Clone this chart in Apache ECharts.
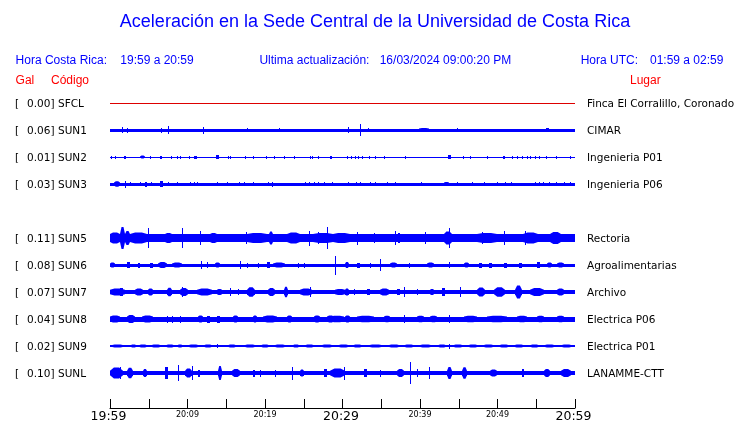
<!DOCTYPE html>
<html><head><meta charset="utf-8">
<script src="https://cdn.jsdelivr.net/npm/echarts@6/dist/echarts.min.js"></script>
<style>html,body{margin:0;padding:0;background:#fff}#c{width:740px;height:423px}</style>
</head><body><div id="c"></div>
<script>
// ---------- data ----------
const titleText = 'Aceleración en la Sede Central de la Universidad de Costa Rica';
const headerLabels = ['Hora Costa Rica:', '19:59 a 20:59', 'Ultima actualización:', '16/03/2024 09:00:20 PM', 'Hora UTC:', '01:59 a 02:59'];
const columnLabels = ['Gal', 'Código', 'Lugar'];
const codes  = ['SFCL', 'SUN1', 'SUN2', 'SUN3', 'SUN5', 'SUN6', 'SUN7', 'SUN8', 'SUN9', 'SUNL'];
const gals   = ['0.00', '0.06', '0.01', '0.03', '0.11', '0.08', '0.07', '0.04', '0.02', '0.10'];
const places = ['Finca El Corralillo, Coronado', 'CIMAR', 'Ingenieria P01', 'Ingenieria P06', 'Rectoria',
                'Agroalimentarias', 'Archivo', 'Electrica P06', 'Electrica P01', 'LANAMME-CTT'];
const tickMinutes = [0, 10, 20, 30, 40, 50, 60];
const tickLabels  = ['19:59', '20:09', '20:19', '20:29', '20:39', '20:49', '20:59'];
const bigTickMinutes = [0, 30, 60];

// envelopes: [start minute, end minute, half amplitude]; first entry = background level of the trace
const sfcl = [[0,60,0]];
const sun1 = [[0,60,1.5],[1.5,1.5,3.3],[2.2,2.2,2.5],[6.6,6.6,2.5],[7.5,7.5,4.3],[12.0,12.0,3.5],[17.7,17.7,2],[21.8,21.8,2],
  [30.7,30.7,3],[32.2,32.2,6],[33.3,33.3,2],[39.9,41.2,1.9],[44.8,44.8,2],[56.2,56.6,2]];
const sun2 = [[0,60,0.5],[0.1,0.2,1.5],[0.6,0.7,1.5],[1.8,2.1,1.5],[3.9,4.5,1.5],[5.2,5.3,1.5],[6.5,6.7,1.5],[7.9,8.0,1.5],
  [8.7,8.8,1.5],[9.0,9.1,1.5],[10.2,10.3,1.5],[10.9,11.2,1.5],[13.7,14.1,1.6],[15.2,15.2,1.5],[15.5,15.5,1.5],[17.4,17.6,1.5],
  [18.5,18.5,1.5],[20.1,20.1,1.5],[21.1,21.1,1.5],[22.4,22.4,1.5],[23.7,23.7,1.5],[25.8,25.8,1.5],[26.1,26.1,1.5],[26.8,27.0,1.5],
  [28.4,28.6,1.5],[30.6,30.6,1.5],[31.1,31.1,1.5],[31.6,31.6,1.5],[32.0,32.0,1.5],[32.5,32.5,1.5],[33.4,33.4,1.5],[34.2,34.2,1.5],
  [35.3,35.3,1.5],[38.0,38.1,1.5],[43.6,44.0,1.8],[45.6,45.6,1.5],[46.5,46.5,1.5],[48.7,48.7,1.5],[50.7,51.0,1.5],[51.9,52.0,1.5],
  [52.5,52.5,1.5],[53.2,53.2,1.5],[53.8,53.8,1.5],[54.25,54.25,1.5],[54.8,54.8,1.5],[55.3,55.3,1.5],[56.2,56.2,1.5],[57.5,57.5,1.5],[59.3,59.3,1.5]];
const sun3 = [[0,60,1.5],[0.5,1.3,2.7],[1.9,2.0,3.5],[2.6,2.6,2],[3.9,3.9,2],[4.5,4.75,2.5],[5.3,5.3,2],[6.45,6.8,2.7],[7.5,7.5,1.8],
  [8.7,8.8,2],[10.3,10.3,1.8],[10.8,10.8,1.8],[11.2,11.2,2],[13.8,13.8,2],[15.15,15.15,1.8],[16.6,16.6,2],[17.35,17.35,1.8],
  [18.5,18.5,1.8],[20.45,20.45,1.8],[20.9,21.05,2.5],[25.2,25.2,2],[25.7,25.7,1.8],[26.3,26.3,1.8],[26.9,26.9,2],[27.55,27.55,1.8],
  [28.7,28.7,1.8],[30.65,30.65,2],[31.7,31.85,2.3],[32.3,32.3,1.8],[33.5,33.5,1.8],[34.2,34.2,1.8],[35.8,35.8,1.8],[36.8,36.8,1.8],
  [40.1,40.1,1.8],[43.05,43.7,2],[44.8,44.8,1.8],[46.7,46.7,1.8],[48.3,48.3,1.8],[49.95,50.1,2.3],[51.0,51.0,1.8],[51.7,51.7,1.8],
  [54.8,54.8,1.8],[55.3,55.3,1.8],[55.9,55.9,1.8],[56.6,56.6,2],[57.5,57.5,2],[58.55,58.55,1.8],[59.3,59.3,1.8]];
const sun5 = [[0,60,4],[0,1.3,5.5],[1.3,1.95,11],[1.95,2.6,7],[2.6,4.75,5.5],[4.95,4.95,9.7],[7.1,7.97,5],[9.34,9.34,10],
  [11.63,11.63,7],[12.9,13.8,5],[17.53,17.53,6],[17.66,20.24,5],[20.54,21.09,6.5],[22.8,24.5,5.5],[25.74,25.74,7.5],
  [26.2,28.8,5],[26.9,26.9,6],[27.99,27.99,11],[28.8,31,5],[31.87,31.87,6.5],[34.01,34.01,5],[36.81,36.81,7],[37.2,37.4,5],
  [40.69,40.69,6],[43.05,44.14,6.5],[43.7,43.7,10],[47.4,49.95,5],[48.01,48.01,6],[50.8,50.8,7],[53.3,55.2,5.5],
  [53.61,53.61,7],[56.83,58.13,6]];
const sun6 = [[0,60,1.5],[0,0.65,2.5],[2.16,2.58,3],[3.66,3.88,2.5],[5.17,5.59,2.5],[6.24,7.32,3],[7.97,9.26,2.5],[11.75,11.75,4],
  [12.49,12.49,3],[13.56,14.21,2.5],[16.79,16.79,4],[17.66,17.86,2.5],[19.16,19.16,2.5],[20.24,20.67,3],[21.09,22.6,2.5],
  [24.32,24.32,2.5],[24.97,24.97,2.5],[29.06,29.06,9.5],[30.35,30.78,3],[31.87,32.29,2.5],[33.58,33.58,2.5],[34.88,34.88,5.8],
  [36.17,37.03,2.5],[38.53,38.75,2.5],[40.91,41.76,2.5],[43.7,43.92,3.3],[45.64,46.28,2.5],[47.57,48.01,2.5],[48.87,49.3,2.5],
  [50.8,51.24,2.5],[52.74,53.18,2.5],[55.12,55.54,3.3],[56.41,57.05,2.5],[57.7,58.55,2.5]];
const sun7 = [[0,60,2.2],[0,1.94,3.5],[1.29,1.68,4],[3.23,4.3,3.5],[4.95,5.59,3.5],[7.32,7.97,4.3],[9.04,10.11,4],[9.26,9.26,5.3],
  [11.2,13.14,3.5],[13.78,14.43,3],[15.5,15.5,4],[16.57,16.57,3],[17.66,18.73,4.7],[20.45,21.31,4],[22.39,23.03,5.3],
  [24.54,26.05,3.5],[25.83,25.83,5],[29.06,30.35,3],[30.35,30.78,3.5],[31.43,31.43,3],[33.16,33.58,3],[34.88,35.95,3.5],
  [37.03,37.46,3],[37.89,37.89,5],[39.62,39.62,3],[41.33,41.76,3],[42.85,43.27,4],[45.21,45.21,5],[47.37,48.44,4.5],
  [49.51,51.02,4.7],[52.31,53.18,6.5],[54.25,55.97,4],[57.7,58.55,3.5]];
const sun8 = [[0,60,2.5],[0,1.29,3.5],[2.16,3.23,4],[4.09,5.59,3.5],[7.32,7.32,3.5],[7.97,7.97,3.5],[9.04,9.04,3.5],[11.41,12.05,3.5],
  [12.49,12.92,3.5],[13.78,14.21,3.5],[15.93,16.57,3.5],[18.51,18.95,3.5],[19.8,21.53,3.5],[22.82,23.47,3.5],[26.26,27.13,3.5],
  [27.99,28.84,3.5],[28.42,30.14,3.3],[30.35,31,3.5],[31.87,34.01,3.3],[35.3,36.17,3.3],[37.89,37.89,4],[39.62,40.47,3.3],
  [41.33,42.2,3.3],[43.7,43.7,4],[45.64,47.37,3.3],[48.66,51.24,3.3],[52.53,53.82,3.3],[55.12,55.97,3.3],[57.7,58.55,3.3]];
const sun9 = [[0,60,0.6],[0,1.94,1.6],[2.58,3.45,1.6],[3.66,4.95,1.6],[5.17,6.68,1.6],[7.1,8.4,1.6],[8.62,9.47,1.6],[9.91,11.63,1.6],
  [12.05,13.34,1.6],[13.78,13.78,2.3],[15.07,16.37,1.6],[17.22,18.95,1.6],[19.38,20.67,1.6],[21.09,22.82,1.6],[23.47,24.54,1.6],
  [24.97,26.48,1.6],[27.13,28.84,1.6],[29.28,31,1.6],[31.2,32.7,1.6],[33.2,35.3,1.6],[35.7,37.5,1.6],[37.8,39.4,1.6],[39.8,41.7,1.6],
  [42.2,43.5,1.6],[43.7,43.7,2.5],[44.14,45.64,1.6],[46.07,47.57,1.6],[48.01,49.73,1.6],[50.1,51.67,1.6],[52.06,53.6,1.6],
  [54,55.5,1.6],[55.9,57.6,1.6],[58.1,59.7,1.6]];
const sunl = [[0,60,2.2],[0,1.72,5.5],[1.29,1.29,6.3],[2.16,3.01,5.3],[4.3,4.74,4],[7.1,7.53,5.8],[8.82,8.82,7.7],[9.69,10.55,4.5],
  [10.55,10.55,7],[11.41,11.63,3.5],[13.99,14.43,7],[15.72,16.79,4],[18.51,18.73,3.5],[19.38,19.38,3.5],[21.31,21.31,3.5],
  [23.47,23.47,6.5],[24.54,24.97,3.5],[27.55,27.99,4],[28.42,30.35,4.5],[30.14,30.14,6.5],[32.72,33.16,4],[34.88,34.88,3.5],
  [37.03,37.89,4],[38.66,38.66,11],[39.62,39.62,4],[41.11,41.11,6],[43.49,44.14,6],[45.43,46.07,5.7],[49.08,49.95,3.5],
  [53.18,53.39,4],[55.97,56.83,4],[58.13,59.42,4]];
const envelopes = [sfcl, sun1, sun2, sun3, sun5, sun6, sun7, sun8, sun9, sunl];

// ---------- layout ----------
const slots = [0, 1, 2, 3, 5, 6, 7, 8, 9, 10];
const firstRowY = 103, rowStep = 27, halfH = 13;
const plotLeft = 110, plotWidth = 465;
const traceColors = envelopes.map((e, i) => i === 0 ? '#dd0000' : '#0000ff');
const labelFont = "10.5px 'DejaVu Sans'";
const headFont = "12px 'Liberation Sans'";

function renderEnv(color, env) {
  const baseLevel = env[0][2];
  return function (params, api) {
    const t0 = api.value(0), t1 = api.value(1), a = api.value(2);
    const p0 = api.coord([t0, a]), p1 = api.coord([t1, -a]);
    const cy = (p0[1] + p1[1]) / 2;
    let x0 = Math.round(p0[0]), x1 = Math.round(p1[0]);
    if (params.dataIndex > 0 && x1 - x0 >= 4) {
      // burst: spindle-shaped envelope from background level up to the peak
      const pb = api.coord([t0, baseLevel]);
      const hb = Math.max(0.5, cy - pb[1]);
      const ha = cy - p0[1];
      const w = x1 - x0;
      const q1 = x0 + w * 0.3, q2 = x1 - w * 0.3;
      return { type: 'polygon', shape: { points: [
        [x0, cy - hb], [q1, cy - ha], [q2, cy - ha], [x1, cy - hb],
        [x1, cy + hb], [q2, cy + ha], [q1, cy + ha], [x0, cy + hb]] },
        style: { fill: color } };
    }
    if (x1 - x0 < 1) x1 = x0 + 1;
    let y0 = Math.round(p0[1]), y1 = Math.round(p1[1]);
    if (y1 - y0 < 1) { y0 = Math.floor(cy); y1 = y0 + 1; }
    return { type: 'rect', shape: { x: x0, y: y0, width: x1 - x0, height: y1 - y0 }, style: { fill: color } };
  };
}

const grids = [], xAxes = [], yAxes = [], series = [], graphics = [];
envelopes.forEach((env, i) => {
  const cy = firstRowY + slots[i] * rowStep;
  grids.push({ left: plotLeft, width: plotWidth, top: cy - halfH, height: 2 * halfH });
  xAxes.push({ gridIndex: i, type: 'value', min: 0, max: 60, show: false });
  yAxes.push({ gridIndex: i, type: 'value', min: -halfH, max: halfH, show: false });
  series.push({ type: 'custom', xAxisIndex: i, yAxisIndex: i, data: env, encode: { x: [0, 1], y: 2 },
                renderItem: renderEnv(traceColors[i], env), silent: true });
  const ty = cy + 1;
  graphics.push({ type: 'text', x: 15, y: ty, style: { text: '[', font: labelFont, fill: '#000', align: 'left', verticalAlign: 'middle' } });
  graphics.push({ type: 'text', x: 54.5, y: ty, style: { text: gals[i] + ']', font: labelFont, fill: '#000', align: 'right', verticalAlign: 'middle' } });
  graphics.push({ type: 'text', x: 58, y: ty, style: { text: codes[i], font: labelFont, fill: '#000', align: 'left', verticalAlign: 'middle' } });
  graphics.push({ type: 'text', x: 587, y: ty, style: { text: places[i], font: labelFont, fill: '#000', align: 'left', verticalAlign: 'middle' } });
});

// time axis grid
const axisIdx = envelopes.length;
grids.push({ left: plotLeft, width: plotWidth, top: 400, height: 9 });
xAxes.push({
  gridIndex: axisIdx, type: 'value', min: 0, max: 60, interval: 5,
  axisLine: { show: true, lineStyle: { color: '#000', width: 1 } },
  axisTick: { show: true, inside: true, length: 9, lineStyle: { color: '#000', width: 1 } },
  splitLine: { show: false },
  axisLabel: {
    show: true, margin: 2, showMinLabel: true, showMaxLabel: true, hideOverlap: false,
    formatter: function (v) {
      const k = tickMinutes.indexOf(Math.round(v));
      if (k < 0 || Math.abs(v - Math.round(v)) > 1e-6) return '';
      return (bigTickMinutes.indexOf(tickMinutes[k]) >= 0 ? '{b|' : '{s|') + tickLabels[k] + '}';
    },
    rich: {
      b: { fontFamily: 'DejaVu Sans', fontSize: 12.5, lineHeight: 13, color: '#000', padding: [0, 3, 0, 0] },
      s: { fontFamily: 'DejaVu Sans', fontSize: 8, lineHeight: 9, color: '#000', padding: [1, 0, 0, 0] }
    }
  }
});
yAxes.push({ gridIndex: axisIdx, type: 'value', show: false });

// header texts
graphics.push({ type: 'text', x: 375, y: 22, style: { text: titleText, font: "18px 'Liberation Sans'", fill: '#0000ff', align: 'center', verticalAlign: 'middle' } });
const headerX = [15.6, 120.3, 259.4, 379.7, 580.7, 650];
headerLabels.forEach((t, k) => graphics.push({ type: 'text', x: headerX[k], y: 60.5,
  style: { text: t, font: headFont, fill: '#0000ff', align: 'left', verticalAlign: 'middle' } }));
const colX = [15.6, 51, 630];
columnLabels.forEach((t, k) => graphics.push({ type: 'text', x: colX[k], y: 80.7,
  style: { text: t, font: headFont, fill: '#ff0000', align: 'left', verticalAlign: 'middle' } }));

const chart = echarts.init(document.getElementById('c'), null, { renderer: 'canvas' });
chart.setOption({
  animation: false,
  backgroundColor: '#fff',
  grid: grids, xAxis: xAxes, yAxis: yAxes, series: series,
  graphic: graphics
});
</script>
</body></html>
